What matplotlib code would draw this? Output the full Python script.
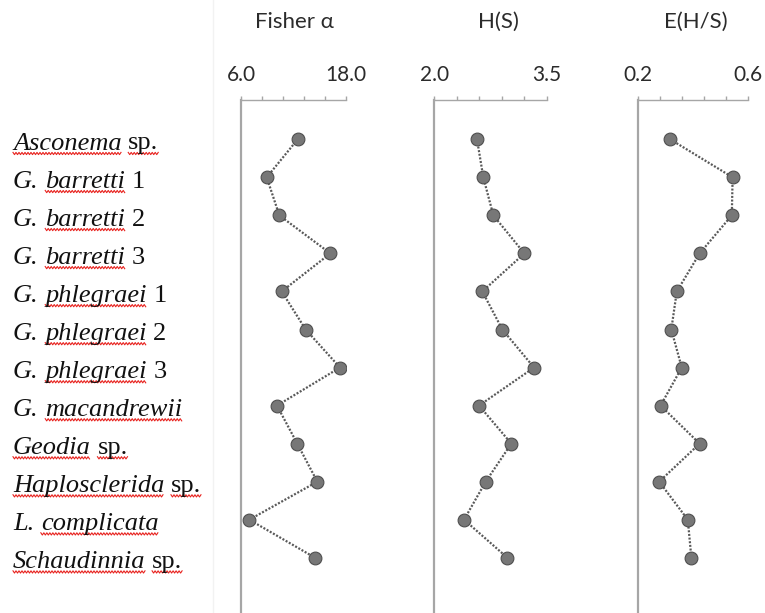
import numpy as np
import matplotlib
matplotlib.use('Agg')
from matplotlib import pyplot as plt
from matplotlib.lines import Line2D

W, H = 765, 613

species = ['Asconema sp.', 'G. barretti 1', 'G. barretti 2', 'G. barretti 3',
           'G. phlegraei 1', 'G. phlegraei 2', 'G. phlegraei 3', 'G. macandrewii',
           'Geodia sp.', 'Haplosclerida sp.', 'L. complicata', 'Schaudinnia sp.']

fisher_alpha = [12.48, 8.94, 10.38, 16.21, 10.65, 13.39, 17.31, 10.11, 12.43, 14.72, 6.95, 14.46]
shannon_h = [2.570, 2.654, 2.788, 3.202, 2.641, 2.908, 3.331, 2.597, 3.028, 2.686, 2.397, 2.975]
evenness = [0.316, 0.543, 0.540, 0.423, 0.340, 0.320, 0.358, 0.281, 0.423, 0.276, 0.380, 0.393]

titles = ['Fisher α', 'H(S)', 'E(H/S)']
limits = [(6.0, 18.0), (2.0, 3.5), (0.2, 0.6)]
limit_labels = [('6.0', '18.0'), ('2.0', '3.5'), ('0.2', '0.6')]

# label pieces: (text, italic, spell-check underline)
label_parts = [
    [('Asconema', True, True), ('sp.', False, True)],
    [('G.', True, False), ('barretti', True, True), ('1', False, False)],
    [('G.', True, False), ('barretti', True, True), ('2', False, False)],
    [('G.', True, False), ('barretti', True, True), ('3', False, False)],
    [('G.', True, False), ('phlegraei', True, True), ('1', False, False)],
    [('G.', True, False), ('phlegraei', True, True), ('2', False, False)],
    [('G.', True, False), ('phlegraei', True, True), ('3', False, False)],
    [('G.', True, False), ('macandrewii', True, True)],
    [('Geodia', True, True), ('sp.', False, True)],
    [('Haplosclerida', True, True), ('sp.', False, True)],
    [('L.', True, False), ('complicata', True, True)],
    [('Schaudinnia', True, True), ('sp.', False, True)],
]

# pixel layout
row0, row_step = 139.3, 38.04
axis_top = 100.0
panels_px = [(241.0, 346.0), (434.3, 546.7), (638.3, 748.3)]
title_x = [294, 498, 696]

fig = plt.figure(figsize=(W / 100, H / 100), dpi=100)
fig.patch.set_facecolor('white')

# faint page edge
fig.add_artist(Line2D([213 / W, 213 / W], [0, 1], color='#f2f2f2', lw=1.0))

y_top = (axis_top - row0) / row_step
y_bot = (H - row0) / row_step
rows = np.arange(len(species))
axis_color = '#a6a6a6'
text_color = '#2b2b2b'
sans = ['Lato', 'DejaVu Sans']

for k, vals in enumerate([fisher_alpha, shannon_h, evenness]):
    x0, x1 = panels_px[k]
    ax = fig.add_axes([x0 / W, 0, (x1 - x0) / W, 1 - axis_top / H])
    ax.plot(vals, rows, color='#595959', lw=1.6, dashes=(0.9, 0.75),
            marker='o', markersize=9.2, markerfacecolor='#777777',
            markeredgecolor='#4f4f4f', markeredgewidth=0.8)
    lo, hi = limits[k]
    ax.set_xlim(lo, hi)
    ax.set_ylim(y_bot, y_top)
    for s in ['right', 'bottom']:
        ax.spines[s].set_visible(False)
    ax.spines['left'].set_color(axis_color)
    ax.spines['left'].set_linewidth(1.6)
    ax.spines['top'].set_color(axis_color)
    ax.spines['top'].set_linewidth(1.0)
    ax.xaxis.tick_top()
    ax.set_xticks(np.linspace(lo, hi, 6))
    ax.set_xticklabels([limit_labels[k][0], '', '', '', '', limit_labels[k][1]])
    ax.tick_params(axis='x', direction='out', length=2.6, width=1.0, color=axis_color,
                   pad=8, labelsize=15, labelcolor=text_color)
    for lab in ax.get_xticklabels():
        lab.set_family(sans)
    ax.set_yticks([])
    ax.patch.set_alpha(0)
    fig.text(title_x[k] / W, 1 - 22 / H, titles[k], ha='center', va='center',
             fontsize=16, color=text_color, family=sans)

# species labels with spell-check squiggles
renderer = fig.canvas.get_renderer()
label_size = 19
space_px = 0.25 * label_size * 100 / 72
for i, parts in enumerate(label_parts):
    base_px = 149.5 + row_step * i
    x_px = 13.0
    for txt, italic, squiggle in parts:
        t = fig.text(x_px / W, 1 - base_px / H, txt, ha='left', va='baseline',
                     fontsize=label_size, family='Liberation Serif',
                     style='italic' if italic else 'normal', color='#111111')
        bb = t.get_window_extent(renderer)
        if squiggle:
            xs = np.arange(bb.x0, bb.x1, 1.5)
            ys = H - (base_px + 4.0) + np.where(np.arange(len(xs)) % 2 == 0, 1.1, -1.1)
            fig.add_artist(Line2D(xs / W, ys / H, color='#e8231f', lw=0.8))
        x_px = bb.x1 + space_px

fig.savefig('out.png', dpi=100, facecolor='white')
